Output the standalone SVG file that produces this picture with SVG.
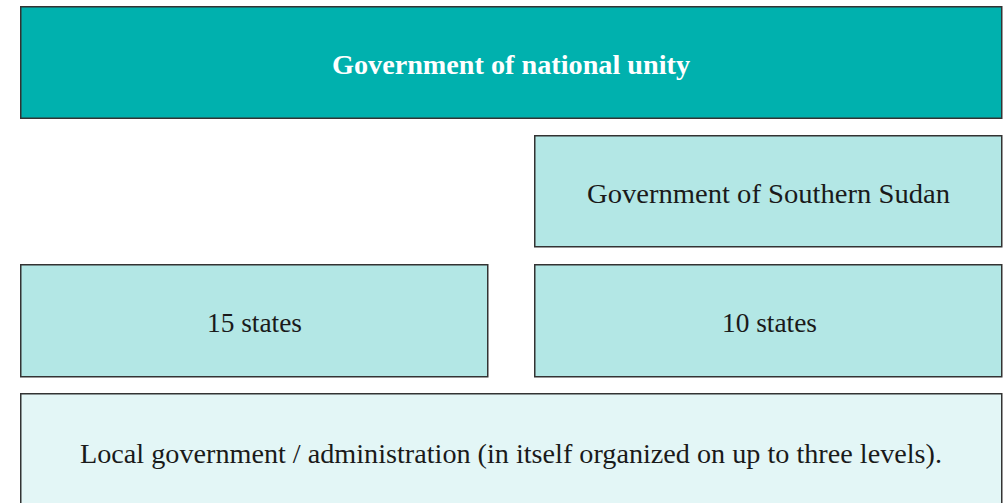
<svg xmlns="http://www.w3.org/2000/svg" width="1006" height="503" viewBox="0 0 1006 503">
<style>
.box{stroke:#333;stroke-width:1.5}
.t{font-family:"Liberation Serif","Times New Roman",serif;font-size:27px;fill:#1a1a1a;text-anchor:middle}
.title{font-weight:bold;fill:#fff}
</style>
<rect width="1006" height="503" fill="#fff"/>
<g id="connectors"></g>
<g id="national">
<rect class="box" x="20.75" y="6.75" width="981" height="111.5" fill="#00B1AE" stroke="#1a1a1a"/>
<text class="t title" x="511" y="74" textLength="358" lengthAdjust="spacingAndGlyphs">Government of national unity</text>
</g>
<g id="southern">
<rect class="box" x="534.75" y="135.75" width="467" height="111" fill="#B3E7E5"/>
<text class="t" x="768.5" y="203" textLength="363" lengthAdjust="spacingAndGlyphs">Government of Southern Sudan</text>
</g>
<g id="states15">
<rect class="box" x="20.75" y="264.75" width="467" height="112" fill="#B3E7E5"/>
<text class="t" x="254.5" y="332" textLength="95" lengthAdjust="spacingAndGlyphs">15 states</text>
</g>
<g id="states10">
<rect class="box" x="534.75" y="264.75" width="467" height="112" fill="#B3E7E5"/>
<text class="t" x="769.5" y="332" textLength="95" lengthAdjust="spacingAndGlyphs">10 states</text>
</g>
<g id="local">
<rect class="box" x="20.75" y="393.75" width="981" height="120" fill="#E3F6F6"/>
<text class="t" x="511" y="463" textLength="862" lengthAdjust="spacingAndGlyphs">Local government / administration (in itself organized on up to three levels).</text>
</g>
</svg>
